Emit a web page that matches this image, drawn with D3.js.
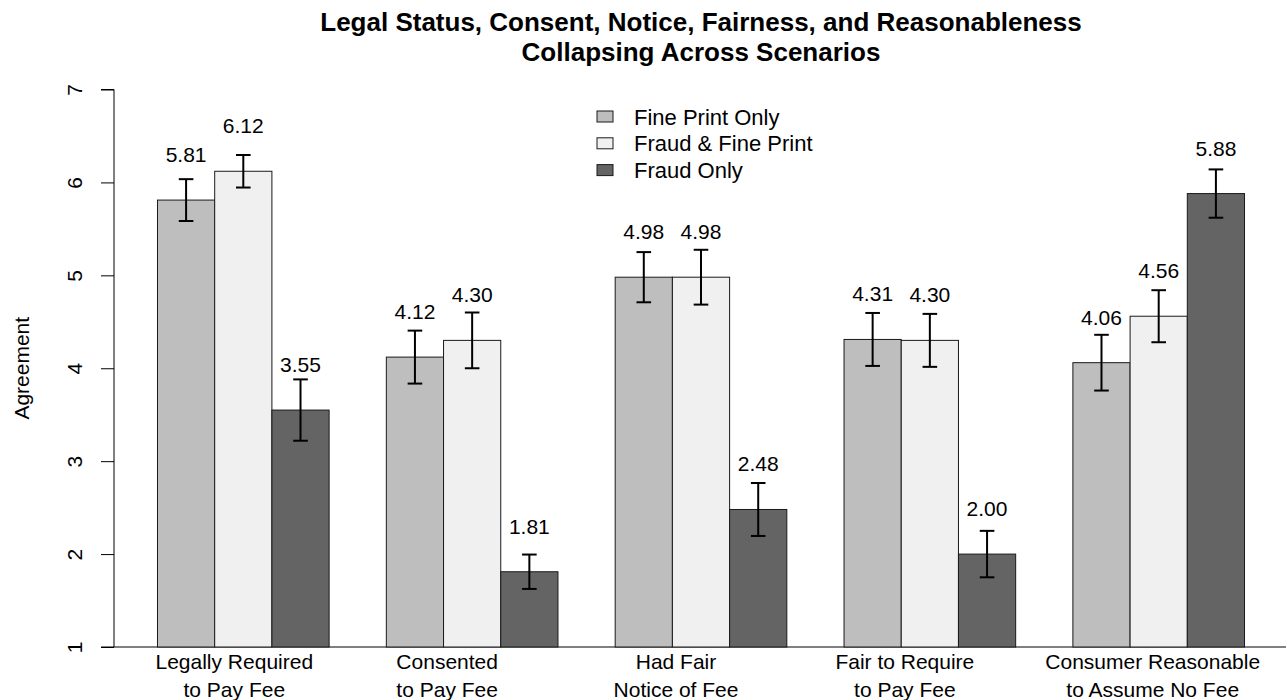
<!DOCTYPE html>
<html>
<head>
<meta charset="utf-8">
<script src="https://cdn.jsdelivr.net/npm/d3@7"></script>
<style>
  html, body { margin: 0; padding: 0; background: #fff; }
  svg { display: block; font-family: "Liberation Sans", Arial, Helvetica, sans-serif; }
</style>
</head>
<body>
<svg id="chart" width="1286" height="700"></svg>
<script>
// ---- data ----
const categories = [
  ["Legally Required", "to Pay Fee"],
  ["Consented", "to Pay Fee"],
  ["Had Fair", "Notice of Fee"],
  ["Fair to Require", "to Pay Fee"],
  ["Consumer Reasonable", "to Assume No Fee"]
];
const seriesNames = ["Fine Print Only", "Fraud & Fine Print", "Fraud Only"];
const finePrintOnly    = [5.81, 4.12, 4.98, 4.31, 4.06];
const fraudAndFine     = [6.12, 4.30, 4.98, 4.30, 4.56];
const fraudOnly        = [3.55, 1.81, 2.48, 2.00, 5.88];
const finePrintOnlyErr = [0.225, 0.285, 0.27, 0.285, 0.30];
const fraudAndFineErr  = [0.175, 0.30, 0.295, 0.285, 0.28];
const fraudOnlyErr     = [0.33, 0.185, 0.285, 0.25, 0.26];
const yTicks = [1, 2, 3, 4, 5, 6, 7];
const titleLines = ["Legal Status, Consent, Notice, Fairness, and Reasonableness", "Collapsing Across Scenarios"];
const yLabel = "Agreement";

// ---- styles ----
const colors = ["#bebebe", "#f0f0f0", "#646464"];
const values = [finePrintOnly, fraudAndFine, fraudOnly];
const errs = [finePrintOnlyErr, fraudAndFineErr, fraudOnlyErr];
const fontSize = 21;
// horizontal nudge of category names (layout, px)
const catLabelNudge = [-9, -25, -25, -25, -6];

const svg = d3.select("#chart");
const catKeys = categories.map(c => c.join(" "));

// plot region
const plotLeft = 114, plotRight = 1288;
const y = d3.scaleLinear().domain([1, 7]).range([647, 89.5]);
const unit = (plotRight - plotLeft) / 20.52;
const firstBarX = plotLeft + 0.76 * unit;

const x0 = d3.scaleBand()
  .domain(catKeys)
  .range([firstBarX, firstBarX + 19 * unit])
  .paddingInner(0.25)
  .paddingOuter(0);
const x1 = d3.scaleBand()
  .domain(seriesNames)
  .range([0, x0.bandwidth()]);

// rows
const rows = [];
catKeys.forEach((c, i) => {
  seriesNames.forEach((s, j) => {
    rows.push({ cat: c, series: s, si: j, v: values[j][i], e: errs[j][i] });
  });
});

// baseline
svg.append("line")
  .attr("x1", plotLeft).attr("x2", 1286)
  .attr("y1", y(1)).attr("y2", y(1))
  .attr("stroke", "#000").attr("stroke-width", 1);

// bars
svg.append("g").selectAll("rect").data(rows).join("rect")
  .attr("x", d => x0(d.cat) + x1(d.series))
  .attr("width", x1.bandwidth())
  .attr("y", d => y(d.v))
  .attr("height", d => y(1) - y(d.v))
  .attr("fill", d => colors[d.si])
  .attr("stroke", "#1a1a1a")
  .attr("stroke-width", 1);

// error bars
const capHalf = 7.3;
const eb = svg.append("g").attr("stroke", "#000").attr("stroke-width", 2);
rows.forEach(d => {
  const cx = x0(d.cat) + x1(d.series) + x1.bandwidth() / 2;
  eb.append("line").attr("x1", cx).attr("x2", cx).attr("y1", y(d.v + d.e)).attr("y2", y(d.v - d.e));
  eb.append("line").attr("x1", cx - capHalf).attr("x2", cx + capHalf).attr("y1", y(d.v + d.e)).attr("y2", y(d.v + d.e));
  eb.append("line").attr("x1", cx - capHalf).attr("x2", cx + capHalf).attr("y1", y(d.v - d.e)).attr("y2", y(d.v - d.e));
});

// value labels
svg.append("g").selectAll("text").data(rows).join("text")
  .attr("x", d => x0(d.cat) + x1(d.series) + x1.bandwidth() / 2)
  .attr("y", d => y(d.v) - 38)
  .attr("text-anchor", "middle")
  .style("font-size", fontSize + "px")
  .attr("fill", "#000")
  .text(d => d.v.toFixed(2));

// y axis
const yAxis = d3.axisLeft(y).tickValues(yTicks).tickSize(13).tickPadding(0).tickFormat(d3.format("d"));
const ga = svg.append("g").attr("transform", `translate(${plotLeft},0)`).call(yAxis);
ga.attr("font-size", null).attr("font-family", null);
ga.select(".domain").attr("d", `M-13,${y(7)}H0V${y(1)}H-13`).attr("stroke", "#000");
ga.selectAll(".tick line").attr("stroke", "#000");
ga.selectAll(".tick text")
  .style("font-size", fontSize + "px")
  .style("font-family", "'Liberation Sans', Arial, sans-serif")
  .attr("fill", "#000")
  .attr("text-anchor", "middle")
  .attr("x", null).attr("dy", null)
  .attr("transform", "translate(-32,0) rotate(-90)");

// y label
svg.append("text")
  .attr("transform", `translate(29,${(y(1) + y(7)) / 2}) rotate(-90)`)
  .attr("text-anchor", "middle")
  .style("font-size", fontSize + "px")
  .text(yLabel);

// category labels
const cl = svg.append("g");
catKeys.forEach((c, i) => {
  const cx = x0(c) + x0.bandwidth() / 2 + catLabelNudge[i];
  categories[i].forEach((line, k) => {
    cl.append("text")
      .attr("x", cx)
      .attr("y", 669 + k * 28)
      .attr("text-anchor", "middle")
      .style("font-size", fontSize + "px")
      .text(line);
  });
});

// title
titleLines.forEach((t, k) => {
  svg.append("text")
    .attr("x", (plotLeft + plotRight) / 2)
    .attr("y", 31 + k * 30)
    .attr("text-anchor", "middle")
    .style("font-size", "26px")
    .attr("font-weight", "bold")
    .text(t);
});

// legend
const lg = svg.append("g");
seriesNames.forEach((s, j) => {
  const cy = 116.5 + j * 26.8;
  lg.append("rect")
    .attr("x", 597).attr("y", cy - 5.5)
    .attr("width", 16).attr("height", 11)
    .attr("fill", colors[j]).attr("stroke", "#1a1a1a").attr("stroke-width", 1);
  lg.append("text")
    .attr("x", 634).attr("y", cy + 8)
    .style("font-size", "22px")
    .text(s);
});
</script>
</body>
</html>
